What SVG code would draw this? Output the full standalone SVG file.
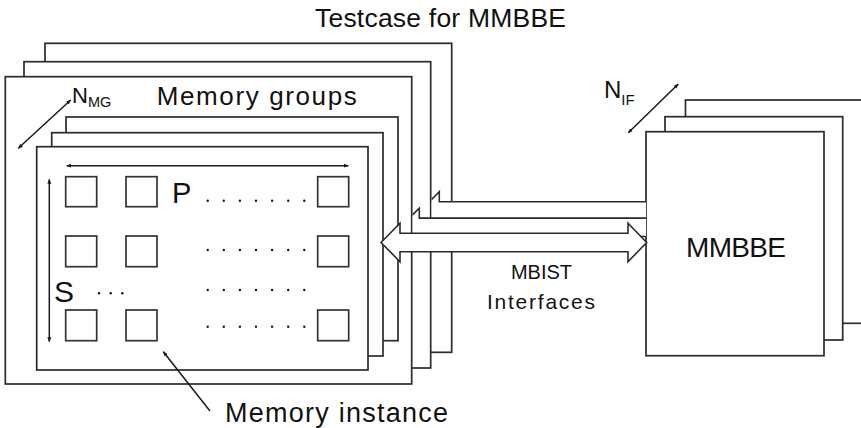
<svg xmlns="http://www.w3.org/2000/svg" width="861" height="428" viewBox="0 0 861 428">
  <style>
    .frame { fill: #ffffff; stroke: #2b2b2b; stroke-width: 1.7; }
    .cell { fill: #ffffff; stroke: #333333; stroke-width: 1.7; }
    .bus { fill: #ffffff; stroke: #2b2b2b; stroke-width: 1.6; stroke-linejoin: miter; }
    .dim { fill: none; stroke: #1a1a1a; stroke-width: 1.5; }
    .dot { fill: #1a1a1a; }
    text { font-family: "Liberation Sans", Arial, sans-serif; fill: #111111; }
  </style>
  <defs>
    <marker id="tip" viewBox="0 0 10 10" refX="9" refY="5" markerWidth="5" markerHeight="5" orient="auto-start-reverse" markerUnits="userSpaceOnUse">
      <path d="M0,1 L10,5 L0,9 Z" fill="#1a1a1a"/>
    </marker>
    <clipPath id="clipBack"><rect x="431.6" y="150" width="214.4" height="120"/></clipPath>
    <clipPath id="clipMid"><rect x="412.6" y="150" width="233.4" height="120"/></clipPath>
  </defs>

  <!-- title -->
  <text x="315" y="27.3" font-size="26.5" textLength="251">Testcase for MMBBE</text>

  <!-- stacked memory group frames, back to front -->
  <g id="group3">
    <rect class="frame" x="45" y="43.3" width="406.7" height="309"/>
  </g>
  <g id="group2">
    <rect class="frame" x="24" y="61.7" width="406.7" height="306.3"/>
  </g>
  <g id="group1">
    <rect class="frame" x="5.3" y="76.7" width="406.4" height="307.3"/>
    <text x="156.7" y="105" font-size="26" textLength="200">Memory groups</text>
  </g>

  <!-- stacked memory instances -->
  <g id="instance3">
    <rect class="frame" x="66" y="117" width="332" height="223.7"/>
  </g>
  <g id="instance2">
    <rect class="frame" x="51.7" y="132.7" width="331.3" height="223.3"/>
  </g>
  <g id="instance1">
    <rect class="frame" x="36.7" y="146.7" width="331.3" height="223.3"/>
    <!-- cell grid -->
    <rect class="cell" x="65.7" y="176.7" width="31" height="30"/>
    <rect class="cell" x="126" y="176.7" width="31" height="30"/>
    <rect class="cell" x="317.7" y="176.7" width="31" height="30"/>
    <rect class="cell" x="65.7" y="236" width="31" height="30.7"/>
    <rect class="cell" x="126" y="236" width="31" height="30.7"/>
    <rect class="cell" x="317.7" y="236" width="31" height="30.7"/>
    <rect class="cell" x="65.7" y="310" width="31" height="30.7"/>
    <rect class="cell" x="126" y="310" width="31" height="30.7"/>
    <rect class="cell" x="317.7" y="310" width="31" height="30.7"/>
    <text x="172" y="202.7" font-size="29">P</text>
    <text x="54" y="301.7" font-size="30">S</text>
    <!-- ellipsis dots -->
    <g class="dot">
      <circle cx="207.7" cy="200.7" r="1.2"/><circle cx="223.8" cy="200.7" r="1.2"/><circle cx="239.9" cy="200.7" r="1.2"/><circle cx="256" cy="200.7" r="1.2"/><circle cx="272.1" cy="200.7" r="1.2"/><circle cx="288.2" cy="200.7" r="1.2"/><circle cx="304.3" cy="200.7" r="1.2"/>
      <circle cx="207.7" cy="250" r="1.2"/><circle cx="223.8" cy="250" r="1.2"/><circle cx="239.9" cy="250" r="1.2"/><circle cx="256" cy="250" r="1.2"/><circle cx="272.1" cy="250" r="1.2"/><circle cx="288.2" cy="250" r="1.2"/><circle cx="304.3" cy="250" r="1.2"/>
      <circle cx="207.7" cy="290" r="1.2"/><circle cx="223.8" cy="290" r="1.2"/><circle cx="239.9" cy="290" r="1.2"/><circle cx="256" cy="290" r="1.2"/><circle cx="272.1" cy="290" r="1.2"/><circle cx="288.2" cy="290" r="1.2"/><circle cx="304.3" cy="290" r="1.2"/>
      <circle cx="207.7" cy="326.7" r="1.2"/><circle cx="223.8" cy="326.7" r="1.2"/><circle cx="239.9" cy="326.7" r="1.2"/><circle cx="256" cy="326.7" r="1.2"/><circle cx="272.1" cy="326.7" r="1.2"/><circle cx="288.2" cy="326.7" r="1.2"/><circle cx="304.3" cy="326.7" r="1.2"/>
      <circle cx="99" cy="293.3" r="1.2"/><circle cx="110.7" cy="293.3" r="1.2"/><circle cx="122.3" cy="293.3" r="1.2"/>
    </g>
  </g>

  <!-- stacked MMBBE blocks, back to front -->
  <g id="mmbbe3">
    <rect class="frame" x="685.5" y="100" width="200" height="223.3"/>
  </g>
  <g id="mmbbe2">
    <rect class="frame" x="665" y="116.7" width="177.7" height="223.3"/>
  </g>
  <g id="mmbbe1">
    <rect class="frame" x="646" y="131.7" width="178" height="224"/>
    <text x="686" y="256.7" font-size="28" textLength="100">MMBBE</text>
  </g>

  <!-- labels -->
  <g id="labels">
    <text x="72" y="102.5" font-size="22">N<tspan font-size="14.5" dy="4.5">MG</tspan></text>
    <text x="604" y="97.5" font-size="24">N<tspan font-size="15" dy="7.5">IF</tspan></text>
    <text x="541.5" y="279" font-size="20" text-anchor="middle">MBIST</text>
    <text x="541" y="309" font-size="21" text-anchor="middle" textLength="108">Interfaces</text>
    <text x="225" y="421.7" font-size="27" textLength="223">Memory instance</text>
  </g>

  <!-- connectors: interface buses and dimension arrows -->
  <g id="connectors">
    <polygon class="bus" clip-path="url(#clipBack)" points="420.3,211 439.3,191.8 439.3,201.8 667,201.8 667,191.8 686,211 667,230.2 667,220.2 439.3,220.2 439.3,230.2"/>
    <polygon class="bus" clip-path="url(#clipMid)" points="400.3,227.3 419.3,208.1 419.3,218.1 647,218.1 647,208.1 666,227.3 647,246.5 647,236.5 419.3,236.5 419.3,246.5"/>
    <polygon class="bus" points="381,242.5 400,223.3 400,233.3 628,233.3 628,223.3 646.7,242.5 628,261.7 628,251.7 400,251.7 400,261.7"/>

    <line class="dim" x1="18.3" y1="148.3" x2="70.7" y2="100" marker-start="url(#tip)" marker-end="url(#tip)"/>
    <line class="dim" x1="628.3" y1="132.7" x2="678.3" y2="84" marker-start="url(#tip)" marker-end="url(#tip)"/>
    <line class="dim" x1="66.7" y1="165.7" x2="348.3" y2="165.7" marker-start="url(#tip)" marker-end="url(#tip)"/>
    <line class="dim" x1="49.3" y1="179.3" x2="49.3" y2="341.7" marker-start="url(#tip)" marker-end="url(#tip)"/>
    <line class="dim" x1="210" y1="411" x2="163.3" y2="351.7" marker-end="url(#tip)"/>
  </g>
</svg>
